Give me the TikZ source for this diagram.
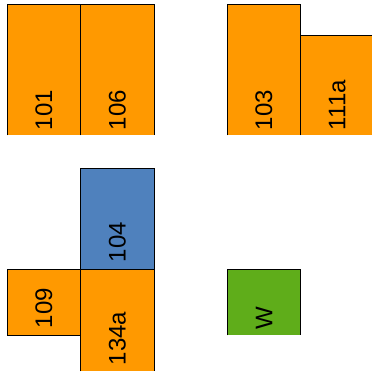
\documentclass[tikz,border=0pt]{standalone}
\usepackage{fontspec}
\setmainfont{Liberation Sans}
\definecolor{orng}{HTML}{FF9900}
\definecolor{blu}{HTML}{4F81BD}
\definecolor{grn}{HTML}{5FAD1A}
\begin{document}
\begin{tikzpicture}[x=1pt,y=-1pt,
  room/.style={rectangle, inner sep=0pt, outer sep=0pt, anchor=north west},
  lbl/.style={rotate=90, anchor=west, inner sep=0pt, font=\fontsize{24}{24}\selectfont},
  edge/.style={draw=black, line width=1pt}]
\useasboundingbox (0,0) rectangle (372,372);
\clip (0,0) rectangle (372,372);
% rooms
\node[room, fill=orng, minimum width=73pt, minimum height=131pt] (r101) at (7.3,4.3) {};
\node[room, fill=orng, minimum width=74pt, minimum height=131pt] (r106) at (80.3,4.3) {};
\node[room, fill=orng, minimum width=73pt, minimum height=131pt] (r103) at (227.3,4.3) {};
\node[room, fill=orng, minimum width=74pt, minimum height=100pt] (r111a) at (300.3,35.3) {};
\node[room, fill=blu, minimum width=74pt, minimum height=100.5pt] (r104) at (80.3,168.8) {};
\node[room, fill=orng, minimum width=73pt, minimum height=66pt] (r109) at (7.3,269.3) {};
\node[room, fill=orng, minimum width=74pt, minimum height=102pt] (r134a) at (80.3,269.3) {};
\node[room, fill=grn, minimum width=73.4pt, minimum height=66pt] (rW) at (227.3,269.3) {};
% borders
\foreach \r in {r101,r106,r103,r111a,rW}
  \draw[edge] (\r.south west) |- (\r.north east) -- (\r.south east);
\draw[edge] (r104.south west) rectangle (r104.north east);
\draw[edge] (r109.south west) rectangle (r109.north east);
\draw[edge] (r134a.south west) |- (r134a.north east) -- (r134a.south east);
% labels
\node[lbl] (t101) at ([yshift=5pt]r101.south) {101};
\node[lbl] (t106) at ([yshift=5pt]r106.south) {106};
\node[lbl] (t103) at ([yshift=5pt]r103.south) {103};
\node[lbl] (t111a) at ([yshift=5pt]r111a.south) {111a};
\node[lbl] (t104) at ([yshift=7pt]r104.south) {104};
\node[lbl] (t109) at ([yshift=7pt]r109.south) {109};
\node[lbl] (t134a) at ([yshift=6pt]r134a.south) {134a};
\node[lbl] (tW) at ([yshift=6pt]rW.south) {W};
\end{tikzpicture}
\end{document}
